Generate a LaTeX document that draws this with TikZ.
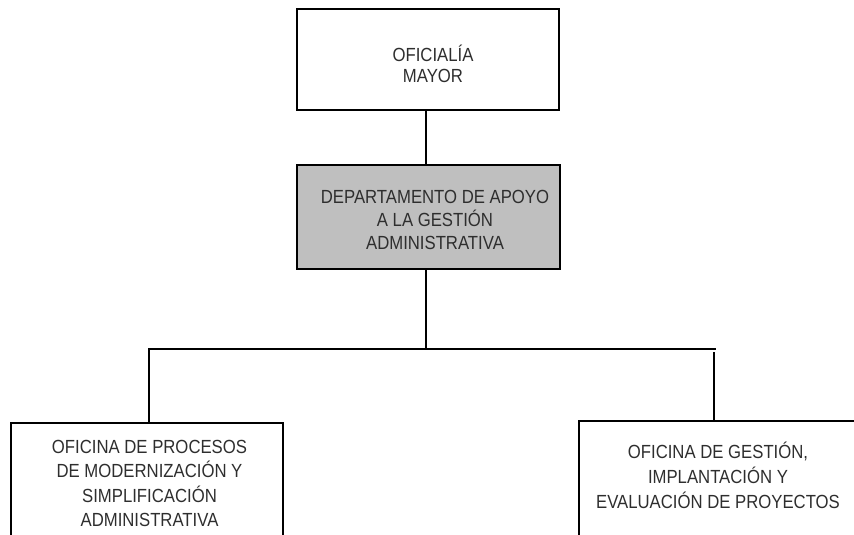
\documentclass[tikz,border=0pt]{standalone}
\usepackage{fontspec}
\setmainfont{Liberation Sans}
% narrow, tall lettering of the unit names
\newfontfamily\unitfont{Liberation Sans}[FakeStretch=0.88]
\begin{document}
\begin{tikzpicture}[x=1pt,y=-1pt,
  unitbox/.style={draw=black,line width=2.6pt,rectangle,inner sep=0pt},
  unitlabel/.style={align=center,text=black!82,font=\unitfont\fontsize{19}{#1}\selectfont,inner sep=0pt},
  link/.style={draw=black,line width=2.6pt}]
\useasboundingbox (0,0) rectangle (854,535);
\clip (0,0) rectangle (854,535);

% boxes
\node[unitbox,minimum width=262pt,minimum height=101pt] (oficialia) at (428,59.5) {};
\node[unitbox,fill=black!25,minimum width=263pt,minimum height=104pt] (depto) at (428.5,217) {};
\node[unitbox,minimum width=272pt,minimum height=140pt] (procesos) at (147,493) {};
\node[unitbox,minimum width=279pt,minimum height=140pt] (gestion) at (718.5,491) {};

% labels
\node[unitlabel=21pt] (toplabel) at (433,63.5) {OFICIALÍA\\MAYOR};
\node[unitlabel=23pt] (midlabel) at (435,220) {DEPARTAMENTO DE APOYO\\A LA GESTIÓN\\ADMINISTRATIVA};
\node[unitlabel=24.5pt] (leftlabel) at (149.5,483.5) {OFICINA DE PROCESOS\\DE MODERNIZACIÓN Y\\SIMPLIFICACIÓN\\ADMINISTRATIVA};
\node[unitlabel=25pt] (rightlabel) at (718,475) {OFICINA DE GESTIÓN,\\IMPLANTACIÓN Y\\EVALUACIÓN DE PROYECTOS};

% junction points of the connectors
\coordinate (stem) at (426,349);
\coordinate (barleft) at (149,349);
\coordinate (barright) at (716,349);
\coordinate (dropright) at (714,352);

% connectors
\draw[link] (oficialia.south -| stem) -- (depto.north -| stem);
\draw[link] (depto.south -| stem) -- (stem);
\draw[link] (procesos.north -| barleft) -- (barleft) -- (barright);
\draw[link] (dropright) -- (gestion.north -| dropright);
\end{tikzpicture}
\end{document}
